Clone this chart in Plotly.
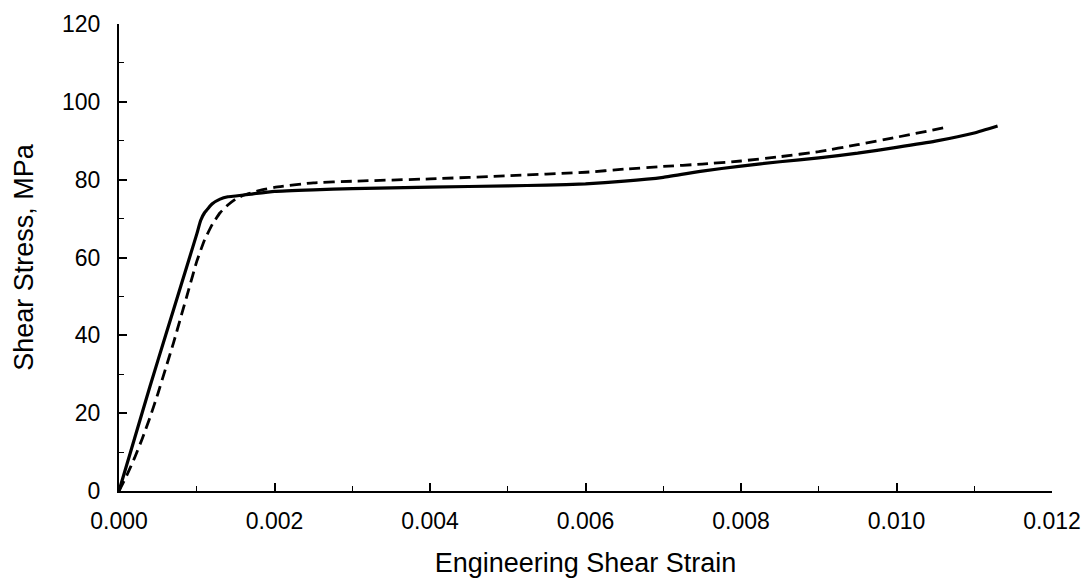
import plotly.graph_objects as go

# Solid curve (specimen 1)
strain_solid = [0, 0.0002, 0.0004, 0.0006, 0.0008, 0.0009, 0.001, 0.00105, 0.0011, 0.0012,
                0.0013, 0.0014, 0.0015, 0.0017, 0.002, 0.0025, 0.003, 0.004, 0.005, 0.0055,
                0.006, 0.0065, 0.007, 0.0075, 0.008, 0.0085, 0.009, 0.0095, 0.010, 0.0105,
                0.011, 0.0113]
stress_solid = [0, 13.5, 27, 40, 53, 59.5, 66, 69.5, 71.5, 73.8,
                75, 75.6, 75.8, 76.3, 77, 77.4, 77.7, 78.1, 78.4, 78.6,
                78.9, 79.6, 80.6, 82.2, 83.5, 84.6, 85.6, 86.8, 88.3, 89.9,
                92.0, 93.8]

# Dashed curve (specimen 2)
strain_dash = [0, 0.0001, 0.0002, 0.0003, 0.0004, 0.0005, 0.0006, 0.0007, 0.0008, 0.0009,
               0.001, 0.0011, 0.0012, 0.0013, 0.0014, 0.0015, 0.0016, 0.0018, 0.002, 0.0025,
               0.003, 0.004, 0.005, 0.006, 0.0065, 0.007, 0.0075, 0.008, 0.0085, 0.009,
               0.0095, 0.010, 0.0106]
stress_dash = [0, 4, 8.5, 13.5, 19, 25, 31.5, 38, 45, 52,
               59, 64.5, 68.5, 71.5, 73.5, 75, 76, 77.2, 78, 79.2,
               79.6, 80.2, 81, 81.9, 82.7, 83.4, 84.0, 84.8, 85.9, 87.2,
               89, 90.9, 93.3]

x_ticks = [0, 0.002, 0.004, 0.006, 0.008, 0.010, 0.012]
x_ticklabels = ["0.000", "0.002", "0.004", "0.006", "0.008", "0.010", "0.012"]
y_ticks = [0, 20, 40, 60, 80, 100, 120]

FONT = "Liberation Sans, Arial, sans-serif"

fig = go.Figure()
fig.add_trace(go.Scatter(x=strain_solid, y=stress_solid, mode="lines",
                         line=dict(color="black", width=3.2, shape="spline", smoothing=0.4),
                         showlegend=False))
fig.add_trace(go.Scatter(x=strain_dash, y=stress_dash, mode="lines",
                         line=dict(color="black", width=2.8, dash="11px,6px", shape="spline", smoothing=0.4),
                         showlegend=False))

fig.update_layout(
    width=1081, height=578,
    margin=dict(l=119, r=29, t=24, b=87),
    paper_bgcolor="white", plot_bgcolor="white",
    font=dict(family=FONT, color="black", size=23),
    showlegend=False,
)
fig.update_xaxes(
    range=[0, 0.012], tickvals=x_ticks, ticktext=x_ticklabels,
    showgrid=False, zeroline=False, showline=True, linecolor="black", linewidth=2,
    ticks="inside", ticklen=8, tickwidth=1.5, tickcolor="black",
    minor=dict(ticks="inside", ticklen=5, tickwidth=1.2, tickcolor="black", dtick=0.001, showgrid=False),
    ticklabelstandoff=8, automargin=False,
    title=dict(text="Engineering Shear Strain", font=dict(size=27), standoff=28),
)
fig.update_yaxes(
    range=[0, 120], tickvals=y_ticks,
    showgrid=False, zeroline=False, showline=True, linecolor="black", linewidth=2,
    ticks="inside", ticklen=8, tickwidth=1.5, tickcolor="black",
    minor=dict(ticks="inside", ticklen=5, tickwidth=1.2, tickcolor="black", dtick=10, showgrid=False),
    ticklabelstandoff=12, automargin=False,
    title=dict(text="Shear Stress, MPa", font=dict(size=27), standoff=21),
)

fig.write_html("out.html")
